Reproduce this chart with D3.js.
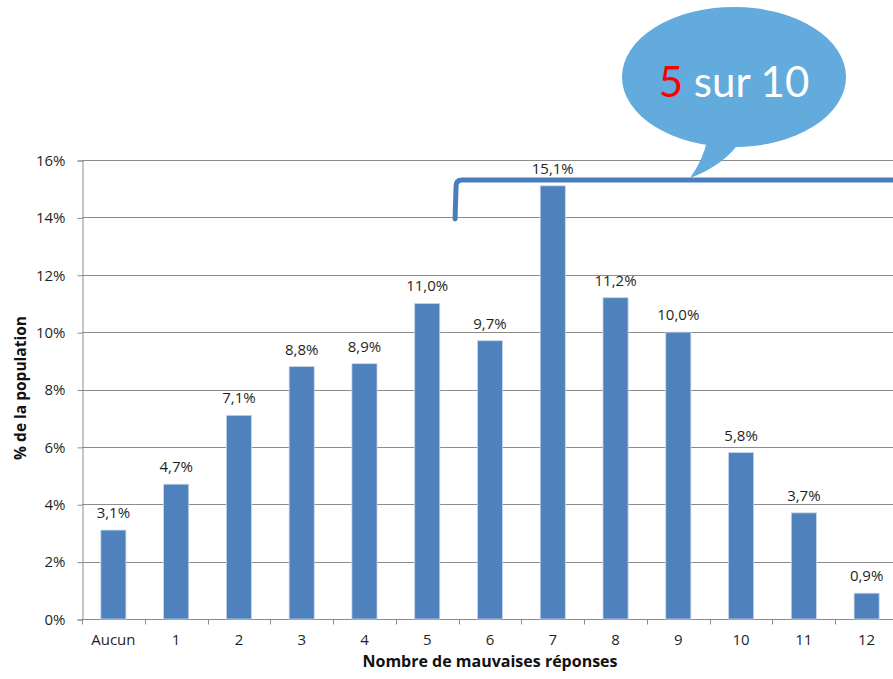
<!DOCTYPE html>
<html>
<head>
<meta charset="utf-8">
<script src="https://cdn.jsdelivr.net/npm/d3@7"></script>
<style>
    body { margin: 0; background: #fff; }
    svg { display: block; font-family: "Open Sans", sans-serif; }
    .gridline { stroke: #8c8c8c; stroke-width: 1; }
    .axis path, .axis line { stroke: #8c8c8c; }
    .axis text { fill: #1f1f1f; font-size: 15px; font-family: "Open Sans", sans-serif; }
    .barLabel { fill: #1f1f1f; font-size: 15px; text-anchor: middle; }
    .axisTitle { fill: #111; font-weight: bold; text-anchor: middle; }
</style>
</head>
<body>
<script>
(function(){
var categories = ["Aucun", "1", "2", "3", "4", "5", "6", "7", "8", "9", "10", "11", "12"];
var values = [3.1, 4.7, 7.1, 8.8, 8.9, 11.0, 9.7, 15.1, 11.2, 10.0, 5.8, 3.7, 0.9];
var yTicks = [0, 2, 4, 6, 8, 10, 12, 14, 16];
var bracketFrom = "6", bracketTo = "12"; //categories covered by the bracket

window.onload = setChart();

function setChart(){
    var width = 893,
        height = 679,
        left = 82,
        plotRight = 898,
        top = 160,
        bottom = 619;

    var svg = d3.select("body")
        .append("svg")
        .attr("width", width)
        .attr("height", height);

    var x = d3.scaleBand()
        .domain(categories)
        .range([left, plotRight])
        .paddingInner(0.6)
        .paddingOuter(0.3);

    var y = d3.scaleLinear()
        .domain([0, 16])
        .range([bottom, top]);

    //horizontal gridlines
    svg.selectAll(".gridline")
        .data(yTicks.slice(1))
        .enter()
        .append("line")
        .attr("class", "gridline")
        .attr("x1", left)
        .attr("x2", width)
        .attr("y1", function(d){ return Math.round(y(d)) + 0.5; })
        .attr("y2", function(d){ return Math.round(y(d)) + 0.5; });

    //y axis
    var yAxis = svg.append("g")
        .attr("class", "axis")
        .attr("transform", "translate(" + (left + 0.5) + ",0.5)")
        .call(d3.axisLeft(y).tickValues(yTicks).tickSize(5).tickPadding(12)
            .tickFormat(function(d){ return d + "%"; }));
    yAxis.attr("font-family", null).attr("font-size", null);

    //x axis with ticks between categories
    var xAxis = svg.append("g")
        .attr("class", "axis")
        .attr("transform", "translate(0," + (bottom + 0.5) + ")");
    xAxis.append("line")
        .attr("x1", left)
        .attr("x2", width);
    var step = x.step();
    xAxis.selectAll(".sep")
        .data(d3.range(categories.length + 1))
        .enter()
        .append("line")
        .attr("x1", function(i){ return Math.round(left + i * step) + 0.5; })
        .attr("x2", function(i){ return Math.round(left + i * step) + 0.5; })
        .attr("y1", 0)
        .attr("y2", 5);
    xAxis.selectAll(".catLabel")
        .data(categories)
        .enter()
        .append("text")
        .attr("x", function(d){ return x(d) + x.bandwidth() / 2; })
        .attr("y", 25)
        .attr("text-anchor", "middle")
        .text(function(d){ return d; });

    //bars
    svg.selectAll(".bar")
        .data(values)
        .enter()
        .append("rect")
        .attr("class", "bar")
        .attr("x", function(d, i){ return x(categories[i]); })
        .attr("width", x.bandwidth())
        .attr("y", function(d){ return y(d); })
        .attr("height", function(d){ return bottom - y(d); })
        .style("fill", "#4f81bd")
        .style("stroke", "#c9d6ea")
        .style("stroke-width", 0.8);

    //value labels
    svg.selectAll(".barLabel")
        .data(values)
        .enter()
        .append("text")
        .attr("class", "barLabel")
        .attr("x", function(d, i){ return x(categories[i]) + x.bandwidth() / 2; })
        .attr("y", function(d){ return y(d) - 12; })
        .text(function(d){ return d.toFixed(1).replace(".", ",") + "%"; });

    //axis titles
    svg.append("text")
        .attr("class", "axisTitle")
        .attr("x", 490)
        .attr("y", 667)
        .style("font-size", "16px")
        .text("Nombre de mauvaises réponses");
    svg.append("text")
        .attr("class", "axisTitle")
        .attr("transform", "translate(26," + 388 + ") rotate(-90)")
        .style("font-size", "15.5px")
        .text("% de la population");

    //bracket above categories 6..12
    var bx = x(bracketFrom) - (x.step() - x.bandwidth()) / 2 - 0.5 * x.bandwidth() + 10,
        by = 180,
        bEnd = x(bracketTo) + x.step(),
        r = 6;
    svg.append("path")
        .attr("d", "M" + (bx - 1) + "," + 219 +
            " L" + bx + "," + (by + r) +
            " Q" + bx + "," + by + " " + (bx + r) + "," + by +
            " L" + bEnd + "," + by)
        .style("fill", "none")
        .style("stroke", "#4a7ebb")
        .style("stroke-width", 5)
        .style("stroke-linecap", "round");

    //speech bubble
    var cx = 734, cy = 77, rx = 112, ry = 70;
    var bubble = svg.append("g").style("fill", "#63aadd");
    bubble.append("path")
        .attr("d", "M707," + (cy + ry - 6) + " Q703,160 690,178 Q725,165 742," + (cy + ry - 8) + " Z");
    bubble.append("ellipse")
        .attr("cx", cx)
        .attr("cy", cy)
        .attr("rx", rx)
        .attr("ry", ry);

    var bubbleText = svg.append("text")
        .attr("x", cx)
        .attr("y", cy + 20)
        .attr("text-anchor", "middle")
        .style("font-family", "Lato, sans-serif")
        .style("font-size", "42px")
        .style("fill", "#fff");
    bubbleText.append("tspan").style("fill", "#ff0000").text("5");
    bubbleText.append("tspan").text(" sur 10");
};
})();
</script>
</body>
</html>
